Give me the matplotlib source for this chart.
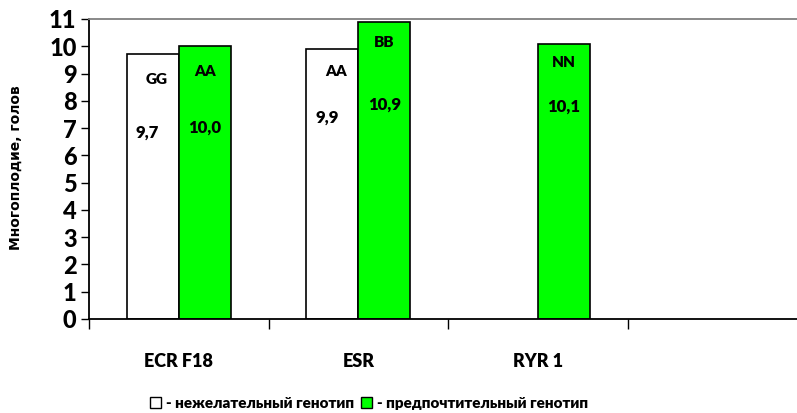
import matplotlib
matplotlib.use("Agg")
import matplotlib.pyplot as plt
from matplotlib.patches import Patch

# многоплодие по генотипам
genes = ["ECR F18", "ESR", "RYR 1", ""]
bad_vals = [9.7, 9.9, 0.0]          # нежелательный генотип
good_vals = [10.0, 10.9, 10.1]      # предпочтительный генотип
bad_geno = ["GG", "AA", ""]
good_geno = ["AA", "BB", "NN"]

# подписи внутри столбцов (смещение вниз от верха столбца)
bad_name_drop = [0.9, 0.84, 0]
bad_val_drop = [2.88, 2.53, 0]
good_name_drop = [0.94, 0.78, 0.71]
good_val_drop = [3.0, 3.05, 2.33]

GREEN = "#00FF00"
plt.rcParams["font.family"] = ["Lato", "DejaVu Sans"]
plt.rcParams["font.weight"] = 800

fig = plt.figure(figsize=(7.97, 4.13), dpi=100)
ax = fig.add_axes([89 / 797, 94 / 413, 718 / 797, 300 / 413])

w = 0.29
xs = range(len(good_vals))
for i in xs:
    if bad_vals[i] > 0:
        ax.bar(i - w / 2, bad_vals[i], w, color="white", edgecolor="black", linewidth=1.2, zorder=2)
        ax.text(i - w / 2 + 0.02, bad_vals[i] - bad_name_drop[i], bad_geno[i], ha="center", va="center",
                fontsize=11, fontweight=800)
        ax.text(i - w / 2 - 0.03, bad_vals[i] - bad_val_drop[i], f"{bad_vals[i]:.1f}".replace(".", ","),
                ha="center", va="center", fontsize=12, fontweight=800)
    ax.bar(i + w / 2, good_vals[i], w, color=GREEN, edgecolor="black", linewidth=1.2, zorder=2)
    ax.text(i + w / 2, good_vals[i] - good_name_drop[i], good_geno[i], ha="center", va="center",
            fontsize=11, fontweight=800)
    ax.text(i + w / 2, good_vals[i] - good_val_drop[i], f"{good_vals[i]:.1f}".replace(".", ","),
            ha="center", va="center", fontsize=12, fontweight=800)

ax.set_xlim(-0.5, 3.5)
ax.set_ylim(0, 11)
ax.set_yticks(range(12))
ax.set_yticklabels([str(v) for v in range(12)], fontsize=17, fontweight=900)
ax.tick_params(axis="y", length=6, width=1, pad=3)
ax.set_xticks([-0.5, 0.5, 1.5, 2.5])
ax.set_xticklabels([])
ax.tick_params(axis="x", length=7, width=1)
for i, g in enumerate(genes):
    ax.text(i, -1.55, g, ha="center", va="center", fontsize=13, fontweight=800)

for s in ["left", "bottom"]:
    ax.spines[s].set_linewidth(1.3)
ax.spines["top"].set_color("#808080")
ax.spines["top"].set_linewidth(1.3)
ax.spines["right"].set_visible(False)

fig.text(16 / 797, 1 - 168 / 413, "Многоплодие, голов", rotation=90, ha="center", va="center",
         fontsize=10, family="DejaVu Sans", fontweight="bold")

handles = [Patch(facecolor="white", edgecolor="black", linewidth=1),
           Patch(facecolor=GREEN, edgecolor="black", linewidth=1)]
fig.legend(handles, ["- нежелательный генотип", "- предпочтительный генотип"], ncol=2, frameon=False,
           loc="center", bbox_to_anchor=(369 / 797, 1 - 403 / 413), handlelength=0.7, handleheight=0.7,
           handletextpad=0.3, columnspacing=0.5, prop={"size": 11, "weight": 800})

fig.savefig("out.png", dpi=100)
